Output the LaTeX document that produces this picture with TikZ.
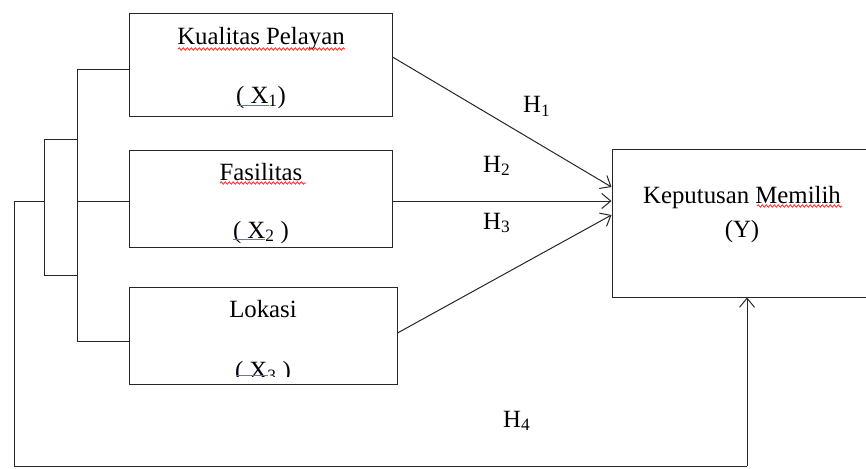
\documentclass[tikz,border=0pt]{standalone}
\usepackage{fontspec}
\setmainfont{Liberation Serif}
\usetikzlibrary{arrows.meta,decorations.pathmorphing}
\begin{document}
\begin{tikzpicture}[x=1pt,y=-1pt,
  box/.style={draw=black!85,line width=1pt,inner sep=0pt},
  lbl/.style={anchor=base,inner sep=0pt,font=\fontsize{24.8}{28}\selectfont},
  hl/.style={anchor=base west,inner sep=0pt,font=\fontsize{24.8}{28}\selectfont},
  ln/.style={draw=black!85,line width=1pt},
  arr/.style={ln,-{Straight Barb[length=9pt,width=15pt,line width=1pt]}},
  squig/.style={draw=red!85,line width=0.8pt,decorate,decoration={snake,amplitude=1.2pt,segment length=4pt}},
  blu/.style={draw=blue!60,line width=1pt}]
\useasboundingbox (0,0) rectangle (866,468);
% boxes
\node[box,minimum width=263pt,minimum height=102pt] (x1) at (260.5,65) {};
\node[box,minimum width=263pt,minimum height=97pt] (x2) at (260.5,198.5) {};
\node[box,minimum width=268pt,minimum height=97pt] (x3) at (263,335.5) {};
\node[box,minimum width=256pt,minimum height=148pt] (y) at (740,223) {};
% texts
\node[lbl] (t1) at (261,45) {Kualitas Pelayan};
\node[lbl] (t1b) at (261,103) {( X\textsubscript{1})};
\node[lbl] (t2) at (261,180) {Fasilitas};
\node[lbl] (t2b) at (261,238) {( X\textsubscript{2} )};
\node[lbl] (t3) at (263,317) {Lokasi};
\begin{scope}
\clip (130,350) rectangle (396,376);
\node[lbl] (t3b) at (263,378) {( X\textsubscript{3} )};
\end{scope}
\node[lbl] (ty) at (742,203) {Keputusan Memilih};
\node[lbl] (tyb) at (742,237) {(Y)};
% spell-check marks
\draw[squig] (178,49) -- (345,49);
\draw[squig] (220,183) -- (306,183);
\draw[squig] (757,206) -- (842,206);
\draw[blu] (237,106) -- (269,106);
\draw[blu] (233,239) -- (265,239);
\draw[blu] (236,375) -- (268,375);
% brackets
\coordinate (b1) at (77,70);
\coordinate (b2) at (77,201);
\coordinate (b3) at (77,341);
\coordinate (c1) at (44,139);
\coordinate (c2) at (44,275);
\coordinate (c3) at (44,201);
\coordinate (o1) at (14,201);
\coordinate (o2) at (14,466);
\coordinate (o3) at (747,466);
\draw[ln] (x1.west |- b1) -- (b1) -- (b3) -- (x3.west |- b3);
\draw[ln] (b2) -- (x2.west |- b2);
\draw[ln] (77,139) -- (c1) -- (c2) -- (77,275);
\draw[ln] (c3) -- (o1) -- (o2) -- (o3);
\draw[arr] (o3) -- (o3 |- y.south);
% arrows
\draw[arr] (x1.east |- 0,57) -- (y.west |- 0,187);
\draw[arr] (x2.east |- 0,201) -- (y.west |- 0,201);
\draw[arr] (x3.east |- 0,333) -- (y.west |- 0,215);
% labels
\node[hl] (h1) at (523,113) {H\textsubscript{1}};
\node[hl] (h2) at (483,172) {H\textsubscript{2}};
\node[hl] (h3) at (483,229) {H\textsubscript{3}};
\node[hl] (h4) at (503,427) {H\textsubscript{4}};
\end{tikzpicture}
\end{document}
